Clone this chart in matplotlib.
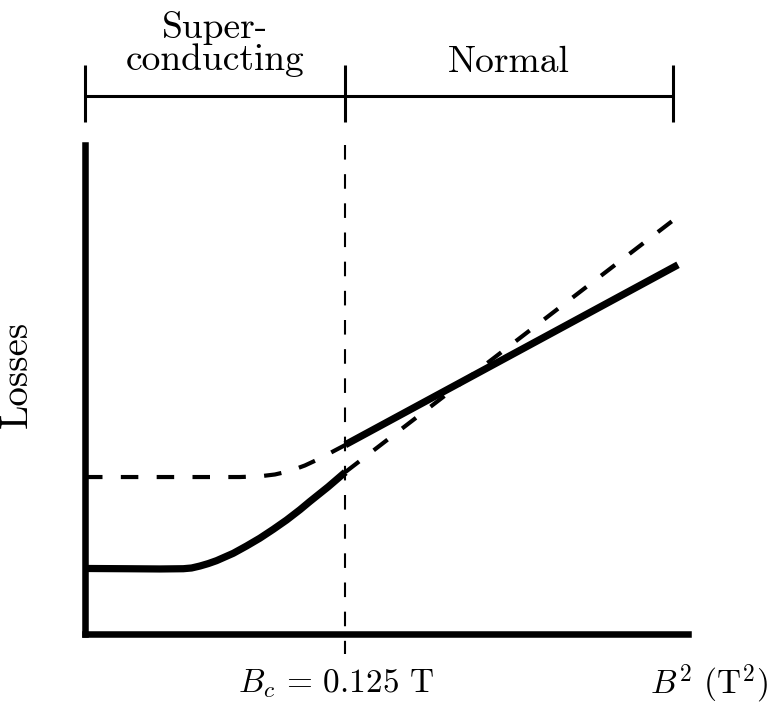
import matplotlib
matplotlib.use("Agg")
import matplotlib.pyplot as plt
import matplotlib.transforms as mtransforms

# Computer Modern look for all text
plt.rcParams["font.family"] = "serif"
plt.rcParams["font.serif"] = ["cmr10"]
plt.rcParams["mathtext.fontset"] = "cm"
plt.rcParams["axes.formatter.use_mathtext"] = True

B_C = 0.125          # critical field, T
BC2 = B_C ** 2       # T^2
B2_MAX = 0.0362

# superconducting state, solid curve
sc_b2 = [0.0, 0.0025, 0.0045, 0.0059, 0.0064, 0.0069, 0.0074, 0.0079, 0.0089,
         0.0097, 0.0105, 0.0113, 0.0121, 0.0129, 0.0135, 0.0146, BC2]
sc_loss = [0.134, 0.1335, 0.133, 0.1335, 0.135, 0.139, 0.144, 0.150, 0.165,
           0.180, 0.196, 0.214, 0.233, 0.254, 0.271, 0.301, 0.331]

# superconducting state, dashed curve
sc_dash_b2 = [0.0, 0.0093, 0.0105, 0.0114, 0.0123, 0.0132, 0.0141, 0.0150, BC2]
sc_dash_loss = [0.321, 0.321, 0.3225, 0.3262, 0.3333, 0.3446, 0.3589, 0.3753, 0.3865]

# normal state, straight lines
n_b2 = [BC2, 0.0356]
n_loss = [0.387, 0.755]
n_dash_b2 = [BC2, 0.0355]
n_dash_loss = [0.331, 0.851]

# region bracket on top
bracket_x = [0.0, BC2, 0.0353]
bracket_y = 1.10
bracket_tick = (1.047, 1.164)
region_labels = ["Super-\nconducting", "Normal"]

fig = plt.figure(figsize=(7.83, 7.04), dpi=100)
ax = fig.add_axes([85 / 783, 70 / 704, 603 / 783, 489 / 704])

ax.plot(sc_b2, sc_loss, color="black", lw=5.2, solid_capstyle="butt",
        solid_joinstyle="round")
ax.plot(n_b2, n_loss, color="black", lw=5.2, solid_capstyle="butt")

dash_kw = dict(color="black", lw=3.0, dashes=(4.2, 4.4), dash_capstyle="butt")
ax.plot(sc_dash_b2, sc_dash_loss, **dash_kw)
ax.plot(n_dash_b2, n_dash_loss, **dash_kw)

# critical field marker
ax.plot([BC2, BC2], [1.0, -0.04], color="black", lw=1.5, dashes=(7, 7),
        dash_capstyle="butt", clip_on=False)

# bracket showing the two regimes
ax.hlines(bracket_y, bracket_x[0], bracket_x[-1], color="black", lw=2.2,
          clip_on=False)
ax.vlines(bracket_x, *bracket_tick, color="black", lw=2.2, clip_on=False)
ax.text((bracket_x[0] + bracket_x[1]) / 2, 1.153, region_labels[0],
        ha="center", va="baseline", fontsize=27, linespacing=0.95)
ax.text((bracket_x[1] + bracket_x[2]) / 2, 1.149, region_labels[1],
        ha="center", va="baseline", fontsize=27)

ax.set_xlim(0, B2_MAX)
ax.set_ylim(0, 1)

for side in ["top", "right"]:
    ax.spines[side].set_visible(False)
for side in ["left", "bottom"]:
    ax.spines[side].set_linewidth(4.7)
    ax.spines[side].set_capstyle("projecting")

ax.set_yticks([])
ax.set_xticks([BC2])
ax.set_xticklabels([r"$B_c\,=\,0.125$ T"], fontsize=24)
ax.tick_params(axis="x", length=0, pad=24)
offset = mtransforms.ScaledTranslation(-9 / 100, 0, fig.dpi_scale_trans)
for lbl in ax.get_xticklabels():
    lbl.set_transform(lbl.get_transform() + offset)

ax.set_ylabel("Losses", fontsize=28)
ax.yaxis.set_label_coords(-0.083, 0.53)
ax.set_xlabel(r"$B^2$ (T$^2$)", fontsize=24)
ax.xaxis.set_label_coords(1.035, -0.102)
ax.xaxis.label.set_verticalalignment("center")

fig.savefig("out.png", dpi=100)
